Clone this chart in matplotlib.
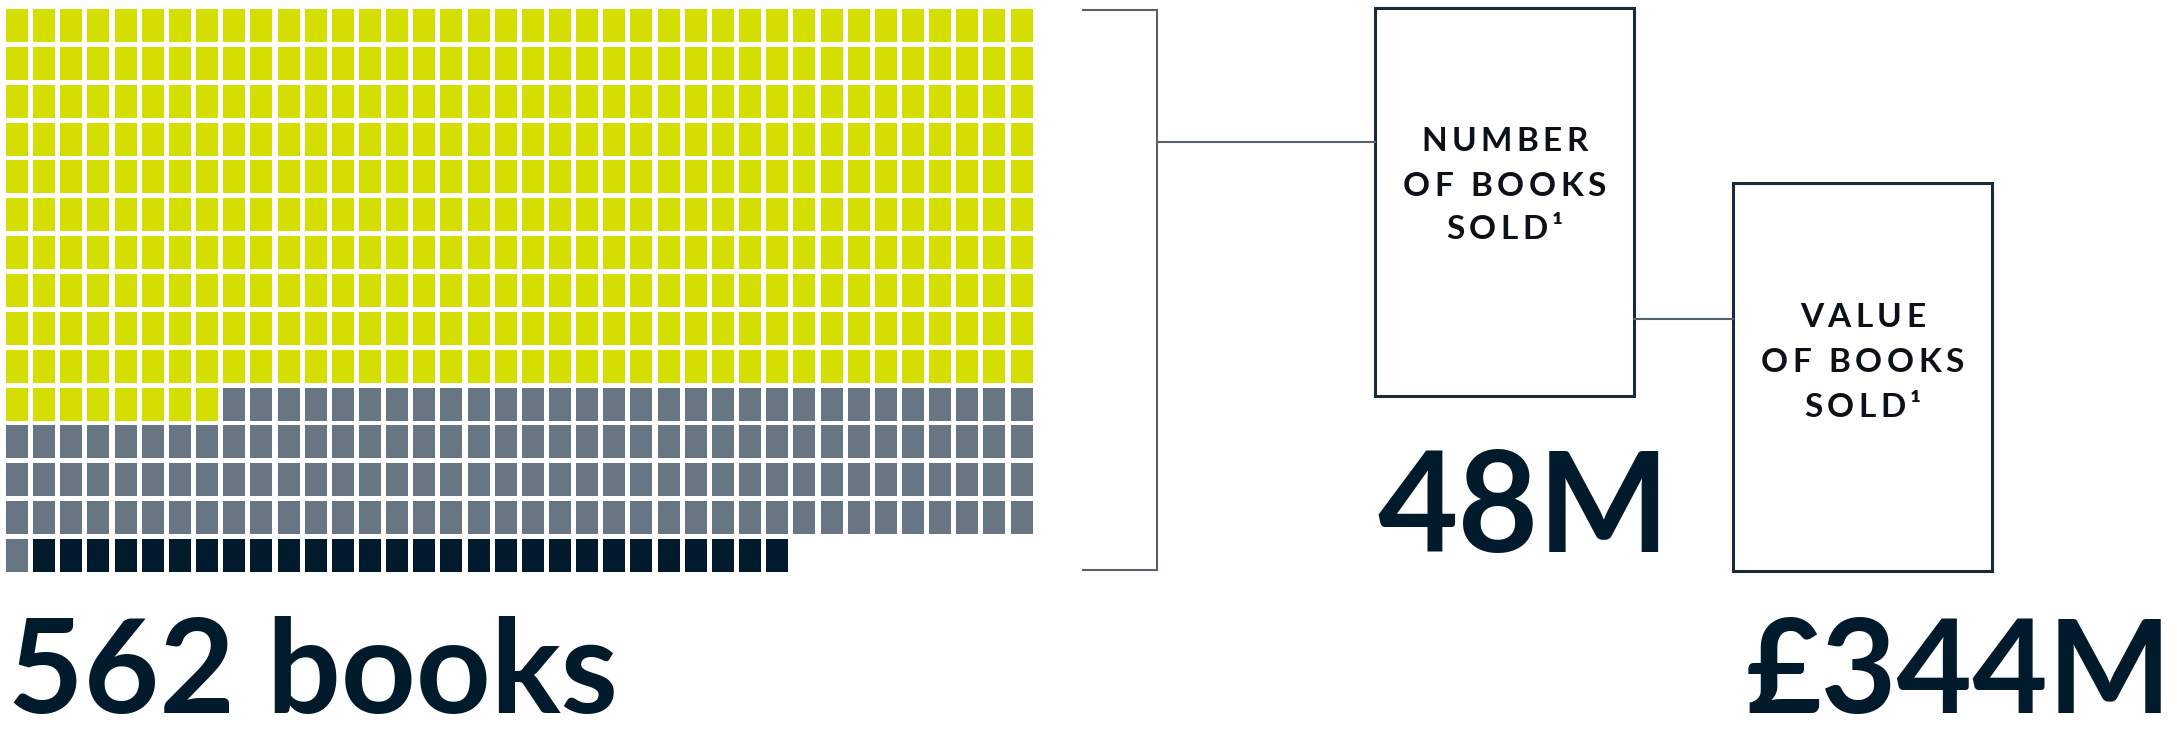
import matplotlib
matplotlib.use("Agg")
import matplotlib.pyplot as plt
from matplotlib.patches import Rectangle

# waffle data: one cell per book, filled row by row from the top left
segment_names = ["segment a", "segment b", "segment c"]
segment_counts = [388, 145, 28]
segment_colors = ["#D4DE00", "#687583", "#021B2C"]
n_cols = 38

# labels
total_label = "562 books"
box_labels = [["NUMBER", "OF BOOKS", "SOLD\u00b9"], ["VALUE", "OF BOOKS", "SOLD\u00b9"]]
box_values = ["48M", "\u00a3344M"]

plt.rcParams["font.family"] = ["Lato", "DejaVu Sans"]
DARK = "#021B2C"
LINE = "#56636F"

fig = plt.figure(figsize=(21.77, 7.37), dpi=100)
ax = fig.add_axes([0, 0, 1, 1])
ax.set_xlim(0, 2177)
ax.set_ylim(737, 0)
ax.axis("off")

# ---- waffle grid (pixel layout) ----
x0, y0 = 6, 9
px, py = 27.15, 37.85
cw, ch = 22, 33
cols, rows, colors = [], [], []
k = 0
for cnt, col in zip(segment_counts, segment_colors):
    for _ in range(cnt):
        rows.append(k // n_cols)
        cols.append(k % n_cols)
        colors.append(col)
        k += 1
lefts = [x0 + c * px for c in cols]
tops = [y0 + r * py for r in rows]
ax.bar(lefts, [ch] * len(lefts), width=cw, bottom=tops, align="edge",
       color=colors, linewidth=0)

# ---- bracket and connectors ----
ax.plot([1083, 1157, 1157, 1083], [10, 10, 570, 570], color=LINE, lw=1.5,
        solid_joinstyle="miter")
ax.plot([1157, 1375], [142, 142], color=LINE, lw=1.5)
ax.plot([1634, 1733], [319, 319], color=LINE, lw=1.5)

boxes = [(1375, 8, 259, 388), (1733, 183, 259, 388)]
for bx, by, bw, bh in boxes:
    ax.add_patch(Rectangle((bx, by), bw, bh, fill=False, edgecolor="#1B2A38", lw=2.2))

renderer = fig.canvas.get_renderer()


def text_width(s, size):
    t = ax.text(0, 0, s, fontsize=size, fontweight="bold")
    w = t.get_window_extent(renderer).width
    t.remove()
    return w


def spaced_text(cx, cy, s, size, track):
    # letter-spaced line, centred on cx
    offs = [text_width(s[:i + 1], size) - text_width(s[i], size) if s[i] != " " else 0
            for i in range(len(s))]
    total = text_width(s, size) + track * (len(s) - 1)
    start = cx - total / 2
    for i, c in enumerate(s):
        if c == " ":
            continue
        ax.text(start + offs[i] + i * track, cy, c, fontsize=size, fontweight="bold",
                color="#0B1116", ha="left", va="center")


line_y = [[141, 186, 229], [317, 362, 407]]
for (bx, by, bw, bh), lines, ys in zip(boxes, box_labels, line_y):
    for s, yy in zip(lines, ys):
        spaced_text(bx + bw / 2, yy, s, 24, 4.5)

big = dict(fontweight="bold", color=DARK, va="baseline")
ax.text(1377, 552, box_values[0], ha="left", fontsize=100, **big)
ax.text(2172, 713, box_values[1], ha="right", fontsize=94, **big)
ax.text(8, 713, total_label, ha="left", fontsize=94, **big)

fig.savefig("out.png", dpi=100)
